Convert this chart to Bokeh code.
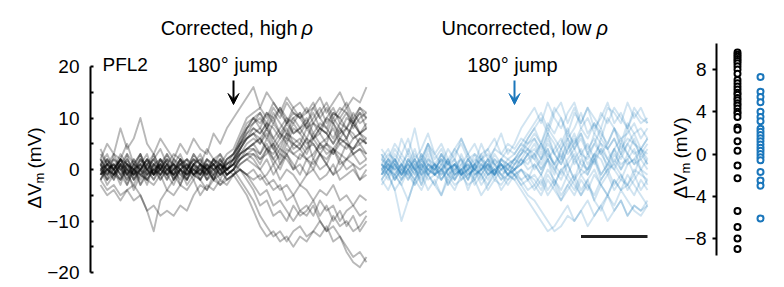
import math
from bokeh.plotting import figure
from bokeh.models import (Range1d, LinearAxis, FixedTicker, Label, Arrow, VeeHead)
from bokeh.embed import file_html
from bokeh.resources import INLINE

# ---------------- data ----------------
time_s = [round(-4 + 0.2 * i, 1) for i in range(41)]   # sample times, jump at 0 s

corrected_traces_mV = [
    [2,5,3,8,4,6,10,5,3,6, 4,2,5,3,6,4,3,7,5,8, 10,12,14,16,12,15,13,11,14,12, 13,11,12,14,11,13,15,12,14,13, 16],
    [1,-2,3,0,2,-1,1,3,-1,0, 2,-2,1,0,3,1,-1,2,0,1, 3,6,9,10,8,11,9,12,10,9, 11,8,10,12,9,11,10,8,11,9, 10],
    [-1,2,0,-3,1,0,-2,1,2,-1, 0,1,-3,0,2,-1,1,0,-2,1, 2,5,8,9,11,8,10,7,9,11, 10,8,9,7,10,12,9,11,8,10, 11],
    [0,-1,2,1,-2,0,3,-1,0,1, -2,2,0,-1,1,3,0,-2,1,0, 1,4,7,8,7,9,6,8,10,7, 8,6,9,8,7,10,8,6,9,7, 8],
    [2,0,-1,1,3,-2,0,1,-1,2, 0,-1,1,2,-1,0,2,1,-1,2, 3,5,6,7,6,8,5,7,6,9, 7,5,6,8,7,5,7,8,6,7, 9],
    [-2,1,0,2,-1,1,-3,0,2,0, -1,1,0,-2,1,2,-1,0,1,-1, 0,3,5,6,5,7,4,6,8,5, 6,4,7,5,6,8,5,4,6,7, 5],
    [1,-1,0,-2,2,0,1,-1,3,0, -2,0,2,1,-1,0,1,-1,2,0, 1,3,4,5,6,4,3,5,7,4, 5,3,6,4,5,3,6,5,4,6, 5],
    [0,2,-1,0,1,-2,0,2,-1,1, 0,-1,2,-1,0,1,-2,1,0,1, 2,3,4,4,3,5,2,4,3,5, 4,2,3,5,3,4,2,5,3,4, 3],
    [-1,0,1,-1,-3,0,1,-2,0,-1, 1,-2,0,1,-1,-2,0,1,-1,0, 1,2,3,3,2,4,1,3,2,0, 3,2,1,3,2,4,1,2,3,1, 2],
    [3,1,0,2,0,-1,2,0,1,-1, 1,0,-2,1,0,-1,2,0,1,-1, 0,1,2,1,0,2,-1,1,3,0, 1,-1,2,0,1,-1,0,2,1,0, 1],
    [0,-2,-1,1,-1,-3,0,-1,1,-2, 0,-1,-3,0,-1,1,-2,-1,0,-2, -1,0,-1,-2,-1,-3,-2,-4,-3,-5, -3,-4,-6,-4,-5,-3,-6,-5,-7,-5, -6],
    [-2,0,1,-1,0,2,-1,0,-2,1, -1,0,1,-1,0,-2,1,0,-1,0, 1,0,-1,-3,-5,-4,-7,-6,-8,-10, -8,-9,-7,-10,-12,-9,-11,-10,-12,-11, -9],
    [1,0,-1,2,0,-2,1,0,-1,0, 2,-1,0,1,-1,0,-2,0,1,-1, 0,-2,-4,-6,-9,-11,-13,-12,-14,-12, -11,-13,-12,-10,-12,-11,-13,-15,-17,-16, -18],
    [-1,1,0,-2,1,-1,0,2,0,-1, 1,-2,0,-1,1,0,-1,2,0,-2, -1,-3,-5,-8,-11,-13,-12,-14,-13,-15, -13,-14,-12,-13,-11,-14,-13,-16,-18,-19, -17],
    [-3,-5,-4,-6,-4,-3,-5,-8,-12,-6, -4,-5,-3,-4,-2,-5,-3,-4,-2,-3, -1,0,-2,-4,-7,-6,-9,-8,-10,-7, -9,-8,-6,-9,-7,-10,-8,-11,-9,-12, -10],
    [-2,-4,-3,-5,-4,-6,-5,-8,-7,-9, -8,-9,-7,-8,-5,-3,-4,-2,-3,-1, 0,2,3,2,0,-2,-4,-3,-6,-5, -8,-7,-9,-6,-8,-7,-10,-8,-7,-9, -8],
    [0,1,-1,2,1,0,-1,1,3,0, 2,1,-1,0,2,1,0,2,1,3, 4,7,10,11,12,10,13,11,9,12, 10,11,13,10,12,9,11,13,10,12, 11],
    [1,3,0,2,1,-1,0,2,1,0, 3,1,0,-1,1,2,0,1,-1,2, 3,5,7,9,10,8,11,9,7,10, 8,9,11,8,10,9,7,10,9,11, 8],
    [-1,0,-2,1,-1,0,-3,-1,0,-2, 0,1,-1,-2,0,-1,1,-2,0,-1, 0,2,4,5,3,6,4,2,5,3, 4,6,2,5,4,3,5,6,3,4, 2],
    [2,-1,1,0,-1,2,0,-2,1,0, -1,2,1,0,-2,1,0,-1,2,0, 1,4,6,7,5,8,6,4,7,6, 5,8,6,7,5,9,6,8,7,5, 6],
    [0,-3,-1,-2,0,-4,-1,-2,-3,-1, -4,-2,0,-3,-1,-2,-4,-1,-3,-2, -1,1,2,3,1,4,2,0,3,1, -1,2,0,3,1,-1,2,0,1,-2, 0],
    [4,1,3,2,5,1,3,0,2,4, 1,3,2,0,3,1,4,2,3,1, 2,5,8,10,11,9,12,10,13,11, 10,12,9,11,13,10,12,11,9,12, 10],
    [1,-2,0,2,-1,1,0,-3,1,2, -1,0,2,-2,1,0,-1,1,2,-1, 0,2,3,4,2,3,5,1,4,3, 2,4,5,3,1,4,3,2,4,5, 3],
    [-1,1,2,0,-2,1,3,0,-1,2, 1,-1,0,2,1,-2,0,1,3,0, 2,4,6,7,8,6,9,7,5,8, 7,9,6,8,7,5,8,6,9,7, 6],
    [2,0,1,-1,3,1,0,2,-1,1, 3,0,1,2,0,-1,2,1,0,2, 3,6,8,10,9,11,10,12,9,10, 11,9,12,10,8,11,10,12,9,11, 10],
    [0,1,-2,1,0,-1,2,0,-2,0, 1,-1,2,0,-1,1,0,-2,1,0, 1,3,4,5,6,4,5,3,6,5, 4,6,5,3,5,4,6,5,4,6, 5],
    [-2,0,-1,1,-3,0,-1,-2,0,1, -1,-3,0,-2,1,-1,0,-2,-1,0, -1,0,-1,0,-2,-1,1,-2,0,-1, -3,-1,0,-2,-1,1,-2,-1,0,-2, -1],
    [1,2,0,3,1,0,2,1,-1,2, 0,1,3,0,2,1,0,2,1,0, 2,4,6,8,7,9,8,6,9,7, 8,10,7,9,8,6,9,8,10,7, 8],
]

uncorrected_traces_mV = [
    [2,4,1,6,3,8,2,5,3,1, 4,2,6,3,1,5,2,4,7,3, 5,8,10,12,9,13,10,8,11,13, 9,12,10,8,12,11,9,13,10,12, 9],
    [0,-2,1,-1,2,0,-3,1,0,-1, 2,-2,0,1,-1,0,2,-1,1,0, 2,4,6,8,5,9,7,10,6,8, 11,7,9,6,10,8,5,9,7,8, 6],
    [1,-1,-4,-10,-6,-2,0,-1,1,-2, 0,1,-1,0,-2,1,0,-1,0,1, 0,1,3,4,2,5,3,1,4,6, 3,2,5,3,1,4,2,5,3,4, 2],
    [-1,2,0,1,-2,0,3,-1,1,0, -2,1,2,-1,0,1,-1,2,0,-1, 1,2,0,1,-1,2,0,-2,1,3, -1,0,2,-1,1,0,-2,1,2,0, -1],
    [3,0,2,-1,1,4,0,2,-1,3, 1,0,2,-2,1,3,0,-1,2,1, 2,3,5,6,4,7,3,5,8,4, 6,3,7,5,4,6,3,8,5,4, 6],
    [0,1,-2,0,-1,1,-3,0,-1,-2, 0,1,-2,-1,0,-3,-1,0,-2,-1, -2,-4,-6,-8,-10,-12,-11,-9,-7,-10, -8,-6,-9,-7,-5,-8,-6,-9,-7,-8, -6],
    [-2,0,1,-1,0,-2,1,0,-1,1, -3,0,-1,2,0,-1,1,-2,0,1, 0,-2,-1,-3,-1,-4,-2,-5,-3,-1, -4,-2,-6,-3,-5,-2,-4,-1,-3,-5, -7],
    [1,3,2,0,4,1,2,5,0,3, 1,4,2,0,3,2,1,4,3,2, 3,5,7,9,11,8,12,10,7,11, 9,12,8,10,13,9,11,8,12,10, 9],
    [-1,0,-2,1,-1,-3,0,-2,-1,0, -3,-1,0,-2,1,-1,-3,0,-1,-2, 0,1,2,3,1,4,0,2,5,1, 3,-1,2,4,0,3,1,2,4,0, 2],
    [2,1,0,3,1,-1,2,0,1,3, 0,2,-1,1,0,2,3,1,0,2, 1,3,4,2,5,3,1,4,6,2, 4,1,3,5,2,4,6,3,1,4, 3],
    [0,-1,1,-2,0,2,-1,1,-1,0, 2,-1,0,1,-2,0,1,-1,2,0, -1,-3,-2,-4,-2,-5,-3,-6,-4,-2, -5,-3,-6,-8,-5,-7,-4,-6,-8,-9, -7],
    [4,2,5,3,6,2,4,7,3,5, 2,4,6,3,5,2,4,6,3,5, 4,6,5,7,5,8,6,4,7,5, 8,6,9,7,5,8,6,7,9,6, 8],
    [-3,-1,-4,-2,0,-3,-1,-4,-2,-5, -1,-3,-2,0,-3,-1,-4,-2,-3,-1, -2,0,-1,-2,-4,-1,-3,0,-2,-4, -1,-3,-5,-2,0,-3,-1,-4,-2,0, -3],
    [1,0,2,-1,1,0,-1,2,1,-2, 0,1,-1,0,2,1,-1,0,1,-1, 0,2,1,3,0,2,-1,4,1,-2, 2,0,3,-1,1,4,0,2,-1,3, 1],
    [-1,1,0,-2,2,0,1,-1,0,2, 1,-1,0,-2,1,0,2,-1,1,0, 2,4,3,5,2,6,3,1,4,7, 3,5,2,6,4,1,5,3,6,2, 4],
    [0,2,-1,1,3,0,-2,1,0,2, -1,0,1,3,-1,0,2,1,-1,0, -1,-3,-5,-6,-8,-10,-12,-11,-9,-10, -8,-11,-9,-7,-10,-8,-6,-9,-7,-8, -7],
    [2,0,3,1,-1,2,0,4,1,0, 2,-1,3,0,1,2,0,3,1,-1, 1,3,6,8,10,7,11,13,9,12, 8,10,7,11,9,12,10,8,11,9, 10],
    [-2,-4,-1,-3,-6,-2,-4,-1,-3,-5, -2,-4,-1,-3,-2,-5,-3,-1,-4,-2, -1,0,-2,-1,-3,0,-2,-4,-1,-3, -5,-2,0,-3,-1,-4,-2,-3,-5,-2, -4],
    [1,-1,2,0,-2,1,0,3,-1,0, 1,2,-1,0,1,-2,0,2,1,-1, 0,1,3,2,0,3,1,-1,2,4, 1,0,3,2,-1,2,0,3,1,2, 0],
    [-1,1,-2,0,1,-1,2,0,-1,1, 0,-2,1,-1,0,2,-1,0,1,-1, 0,2,4,3,5,2,4,6,3,5, 7,4,6,3,5,8,4,6,5,3, 5],
    [3,1,4,2,0,3,1,5,2,4, 1,3,5,2,0,3,4,1,2,4, 3,5,4,6,3,7,5,2,6,4, 7,3,5,8,4,6,3,5,7,4, 6],
    [-2,0,-1,-3,0,-2,1,-1,-3,0, -1,-2,0,-4,-1,0,-2,1,-1,-3, -1,0,-2,1,-1,2,-3,0,1,-2, 0,-1,2,-2,0,1,-1,-3,0,-1, -2],
    [0,2,1,-1,2,0,3,1,0,2, -1,1,0,2,3,0,1,-1,2,1, 2,1,3,0,2,4,1,3,-1,2, 0,3,1,4,2,0,3,1,2,4, 1],
    [1,0,-1,1,0,2,-1,0,1,-1, 0,1,-1,2,0,-1,1,0,-2,1, -1,-2,-4,-3,-5,-2,-4,-6,-3,-5, -2,-4,-1,-3,-5,-2,-4,-3,-1,-4, -2],
]

corrected_delta_mV = [9.6, 9.4, 9.2, 9.0, 8.8, 8.6, 8.3, 8.0, 7.6,
                      7.0, 6.7, 6.4, 6.1, 5.8, 5.6, 5.3, 5.1, 4.8, 4.6, 4.3, 4.0, 3.8, 3.5,
                      2.5, 2.3, 1.2, 0.3, -1.1, -2.3, -5.4, -6.9, -8.0, -9.0]
uncorrected_delta_mV = [7.3, 5.9, 5.4, 4.9, 4.0, 3.5, 3.1,
                        2.4, 2.1, 1.8, 1.5, 1.2, 0.9, 0.6, 0.3, 0.0, -0.3, -0.6,
                        -1.7, -2.5, -3.0, -6.1]

trace_ticks = [-20, -15, -10, -5, 0, 5, 10, 15, 20]
trace_tick_labels = {20: "20", 15: "", 10: "10", 5: "", 0: "0", -5: "", -10: "\u221210", -15: "", -20: "\u221220"}
delta_ticks = [-8, -4, 0, 4, 8]
delta_tick_labels = {8: "8", 4: "4", 0: "0", -4: "\u22124", -8: "\u22128"}
scale_bar_s = 2

# ---------------- layout constants ----------------
W, H = 784, 287
FONT = "Liberation Sans"
BLUE = "#1a76bb"
PX_PER_S = 33.25
PX_PER_MV = 5.15
X0 = -4 - 100 / PX_PER_S          # main x range start (left panel time)
XM0 = -4 - 381 / PX_PER_S         # middle panel time range start
YTOP = 169 / PX_PER_MV            # trace mV at top of canvas
DPX = 10.5625
DTOP = 153.5 / DPX
DX0 = -737 / 23.0


def X(px):
    return X0 + px / PX_PER_S


def Y(py):
    return YTOP - py / PX_PER_MV


p = figure(width=W, height=H, output_backend="svg", toolbar_location=None,
           x_range=Range1d(X0, X0 + W / PX_PER_S),
           y_range=Range1d(YTOP - H / PX_PER_MV, YTOP),
           x_axis_location=None, y_axis_location=None,
           min_border=0, min_border_left=0, min_border_right=0,
           min_border_top=0, min_border_bottom=0)
p.outline_line_color = None
p.background_fill_color = "white"
p.border_fill_color = "white"
p.grid.visible = False
p.extra_x_ranges = {"mid": Range1d(XM0, XM0 + W / PX_PER_S),
                    "dots": Range1d(DX0, DX0 + W / 23.0)}
p.extra_y_ranges = {"dots": Range1d(DTOP - H / DPX, DTOP)}

# traces
for tr in corrected_traces_mV:
    p.line(time_s[:len(tr)], tr, line_color="black", line_alpha=0.28, line_width=1.9,
           line_join="round")
for tr in uncorrected_traces_mV:
    p.line(time_s[:len(tr)], tr, line_color=BLUE, line_alpha=0.2, line_width=1.9,
           line_join="round", x_range_name="mid")

# scale bar
p.line([4 - scale_bar_s, 4], [Y(236), Y(236)], line_color="#222222", line_width=3,
       x_range_name="mid")

# dots
p.scatter([0] * len(corrected_delta_mV), corrected_delta_mV, size=6, marker="circle",
          fill_color="white", line_color="black", line_width=2,
          x_range_name="dots", y_range_name="dots")
p.scatter([1] * len(uncorrected_delta_mV), uncorrected_delta_mV, size=6, marker="circle",
          fill_color="white", line_color=BLUE, line_width=2,
          x_range_name="dots", y_range_name="dots")

# axes
ax1 = LinearAxis(fixed_location=X(90), bounds=(-20, 20),
                 ticker=FixedTicker(ticks=trace_ticks),
                 major_label_overrides=trace_tick_labels)
ax1.major_tick_in = 3
ax1.major_tick_out = 0
ax1.minor_tick_in = 0
ax1.minor_tick_out = 0
ax1.axis_line_width = 2
ax1.major_tick_line_width = 2
ax1.major_label_standoff = 11
ax1.major_label_text_font = FONT
ax1.major_label_text_font_size = "19px"
ax1.major_label_text_color = "black"
p.add_layout(ax1, "left")

ax2 = LinearAxis(fixed_location=X(716), bounds=(-9.61, 10.46), y_range_name="dots",
                 ticker=FixedTicker(ticks=delta_ticks),
                 major_label_overrides=delta_tick_labels)
ax2.major_tick_in = 0
ax2.major_tick_out = 4
ax2.minor_tick_in = 0
ax2.minor_tick_out = 0
ax2.axis_line_width = 2
ax2.major_tick_line_width = 2
ax2.major_label_standoff = 6
ax2.major_label_text_font = FONT
ax2.major_label_text_font_size = "19px"
ax2.major_label_text_color = "black"
p.add_layout(ax2, "left")


def label(text, px, py, size="18px", align="center", baseline="middle",
          style="normal", angle=0.0, color="black"):
    p.add_layout(Label(x=X(px), y=Y(py), text=text, text_font=FONT,
                       text_font_size=size, text_align=align,
                       text_baseline=baseline, text_font_style=style,
                       angle=angle, text_color=color))


# titles
label("Corrected, high", 297, 27, size="20px", align="right")
label("\u03c1", 301, 27, size="20px", align="left", style="italic")
label("Uncorrected, low", 591, 27, size="20px", align="right")
label("\u03c1", 596, 27, size="20px", align="left", style="italic")

label("PFL2", 102, 64, size="19px", align="left")
label("180\u00b0 jump", 232, 64, size="20px")
label("180\u00b0 jump", 512, 64, size="20px")

# y-axis labels (rotated, with subscript)
R = math.pi / 2
label("\u0394V", 34, 208, size="19px", align="left", baseline="alphabetic", angle=R)
label("m", 39, 183, size="13px", align="left", baseline="alphabetic", angle=R)
label("(mV)", 34, 168, size="19px", align="left", baseline="alphabetic", angle=R)

label("\u0394V", 680, 198, size="19px", align="left", baseline="alphabetic", angle=R)
label("m", 685, 173, size="13px", align="left", baseline="alphabetic", angle=R)
label("(mV)", 680, 158, size="19px", align="left", baseline="alphabetic", angle=R)

# arrows at the jump (t = 0)
p.add_layout(Arrow(x_start=0, y_start=Y(80), x_end=0, y_end=Y(104),
                   line_color="black", line_width=2,
                   end=VeeHead(size=11, fill_color="black", line_color="black", line_width=1)))
p.add_layout(Arrow(x_start=0, y_start=Y(80), x_end=0, y_end=Y(104),
                   line_color=BLUE, line_width=2, x_range_name="mid",
                   end=VeeHead(size=11, fill_color=BLUE, line_color=BLUE, line_width=1)))

open("out.html", "w").write(file_html(p, INLINE))
